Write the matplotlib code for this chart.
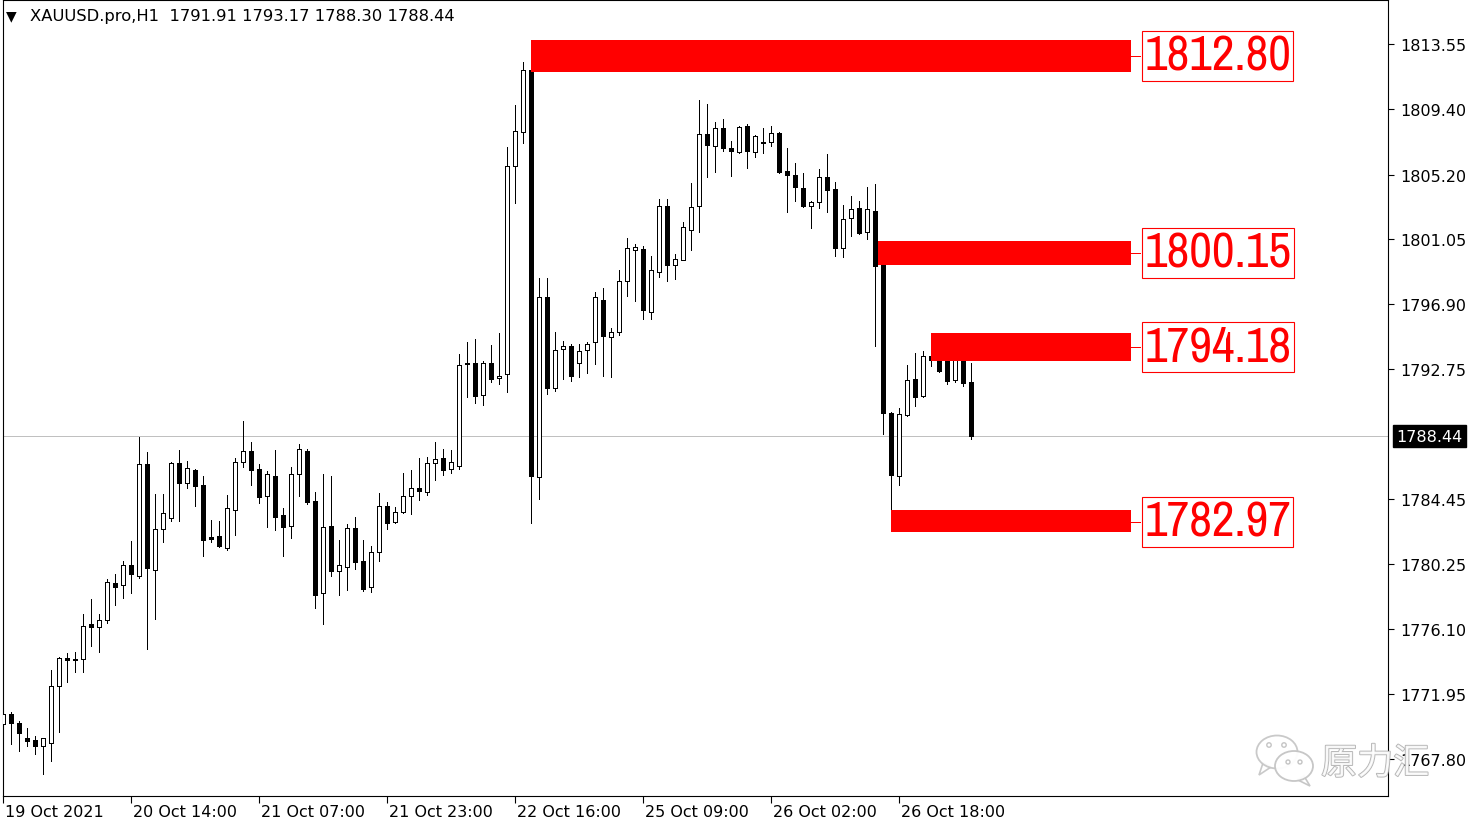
import matplotlib
matplotlib.use("Agg")
import matplotlib.pyplot as plt
from matplotlib.patches import Rectangle, Ellipse, Circle, Polygon
import matplotlib.patheffects as pe
import matplotlib.transforms as mtransforms
from matplotlib import font_manager
from matplotlib.font_manager import FontProperties

# ---------------- data (XAUUSD.pro, H1) ----------------
opens = [1770.03, 1770.67, 1770.09, 1769.13, 1769.01, 1768.62, 1768.81, 1772.46, 1774.25, 1774.19,
         1774.19, 1776.43, 1776.24, 1776.69, 1779.05, 1778.93, 1780.21, 1779.50, 1786.67, 1779.89,
         1782.51, 1783.21, 1786.73, 1785.45, 1786.29, 1785.33, 1782.00, 1782.06, 1781.29, 1783.73,
         1786.80, 1787.50, 1786.35, 1784.62, 1785.90, 1783.41, 1782.70, 1786.03, 1787.50, 1784.30,
         1778.41, 1782.70, 1779.82, 1780.08, 1782.57, 1780.46, 1778.80, 1781.04, 1783.98, 1782.96,
         1783.60, 1784.62, 1785.13, 1784.88, 1786.73, 1787.05, 1786.35, 1786.54, 1793.07, 1793.13,
         1791.09, 1793.13, 1792.17, 1792.43, 1805.74, 1807.92, 1811.89, 1785.84, 1797.36, 1791.53,
         1794.03, 1794.22, 1793.13, 1793.97, 1794.48, 1797.17, 1794.80, 1795.12, 1798.38, 1800.37,
         1800.43, 1796.40, 1798.96, 1803.18, 1799.41, 1799.73, 1801.65, 1803.18, 1807.79, 1807.02,
         1808.17, 1806.89, 1806.64, 1808.30, 1806.64, 1807.28, 1807.28, 1807.85, 1805.42, 1805.17,
         1804.33, 1803.18, 1803.44, 1805.04, 1804.27, 1800.49, 1802.41, 1803.05, 1801.52, 1802.86,
         1799.47, 1789.93, 1785.90, 1789.81, 1792.11, 1791.02, 1793.58, 1793.39, 1793.33, 1792.05,
         1793.58, 1791.91]
highs = [1770.86, 1770.80, 1770.22, 1769.77, 1769.26, 1769.13, 1773.49, 1774.30, 1774.57, 1774.64,
         1777.07, 1778.03, 1777.07, 1779.31, 1779.63, 1780.46, 1781.74, 1788.40, 1787.44, 1784.75,
         1784.75, 1786.80, 1787.57, 1786.86, 1786.35, 1785.90, 1783.09, 1783.02, 1784.69, 1787.05,
         1789.42, 1788.08, 1786.67, 1786.22, 1787.57, 1783.85, 1786.48, 1787.95, 1787.63, 1784.88,
         1786.03, 1785.90, 1781.81, 1782.83, 1783.28, 1781.81, 1781.42, 1784.81, 1784.24, 1783.92,
         1786.09, 1786.29, 1787.05, 1787.12, 1788.08, 1787.63, 1787.57, 1793.71, 1794.48, 1794.67,
         1793.26, 1794.29, 1795.05, 1806.96, 1809.65, 1812.40, 1812.80, 1798.57, 1798.57, 1795.12,
         1794.54, 1794.35, 1794.35, 1794.48, 1797.68, 1797.93, 1795.37, 1799.09, 1801.13, 1800.75,
         1800.60, 1799.98, 1803.63, 1803.63, 1800.11, 1802.16, 1804.65, 1809.97, 1809.71, 1808.56,
         1808.75, 1807.34, 1808.30, 1808.43, 1807.73, 1808.17, 1808.30, 1807.92, 1806.89, 1805.93,
         1805.29, 1803.50, 1805.55, 1806.51, 1804.72, 1803.25, 1803.82, 1803.50, 1804.40, 1804.59,
         1800.15, 1789.98, 1790.25, 1793.01, 1793.77, 1793.90, 1794.18, 1794.35, 1793.42, 1793.62,
         1794.35, 1793.17]
lows = [1769.07, 1768.75, 1768.30, 1768.62, 1768.11, 1766.83, 1767.66, 1769.52, 1772.72, 1773.36,
        1773.36, 1775.02, 1774.64, 1776.49, 1777.65, 1778.09, 1778.41, 1779.37, 1774.83, 1776.75,
        1781.68, 1783.02, 1783.02, 1785.13, 1783.98, 1780.78, 1781.68, 1781.38, 1781.17, 1782.13,
        1786.48, 1785.33, 1784.17, 1782.64, 1782.45, 1780.78, 1781.93, 1784.62, 1784.11, 1777.45,
        1776.43, 1779.50, 1778.29, 1778.61, 1779.95, 1778.54, 1778.48, 1780.46, 1782.51, 1782.89,
        1783.53, 1783.47, 1784.37, 1784.69, 1785.65, 1785.97, 1786.09, 1786.35, 1790.96, 1790.57,
        1790.45, 1791.92, 1791.79, 1791.28, 1803.37, 1807.21, 1782.89, 1784.43, 1791.15, 1791.34,
        1792.11, 1791.98, 1792.24, 1792.49, 1793.07, 1792.30, 1792.24, 1794.93, 1797.42, 1797.10,
        1795.95, 1795.95, 1798.64, 1798.38, 1798.51, 1799.70, 1800.37, 1801.52, 1805.04, 1805.36,
        1806.70, 1805.10, 1806.60, 1805.61, 1806.32, 1806.57, 1807.02, 1805.30, 1802.80, 1803.50,
        1803.15, 1801.77, 1803.05, 1802.80, 1799.98, 1799.92, 1801.26, 1801.40, 1801.07, 1794.22,
        1788.59, 1782.97, 1785.33, 1789.75, 1790.38, 1790.98, 1792.94, 1792.58, 1791.79, 1791.95,
        1791.66, 1788.30]
closes = [1770.67, 1770.09, 1769.45, 1768.94, 1768.62, 1769.13, 1772.46, 1774.25, 1774.13, 1774.13,
          1776.30, 1776.24, 1776.69, 1779.12, 1778.80, 1780.21, 1779.63, 1786.67, 1780.01, 1782.51,
          1783.53, 1786.73, 1785.45, 1786.41, 1785.26, 1781.81, 1781.87, 1781.42, 1783.85, 1786.80,
          1787.50, 1786.29, 1784.56, 1786.03, 1783.28, 1782.64, 1786.03, 1787.63, 1784.24, 1778.29,
          1782.64, 1779.82, 1780.21, 1782.57, 1780.40, 1778.67, 1781.04, 1783.98, 1782.89, 1783.60,
          1784.62, 1785.13, 1784.94, 1786.73, 1786.99, 1786.29, 1786.80, 1793.01, 1793.13, 1791.02,
          1793.13, 1792.11, 1792.30, 1805.74, 1807.98, 1811.89, 1785.90, 1797.36, 1791.53, 1793.97,
          1794.22, 1792.30, 1793.90, 1794.35, 1797.36, 1794.86, 1795.12, 1798.38, 1800.49, 1800.56,
          1796.53, 1799.09, 1803.18, 1799.41, 1799.79, 1801.84, 1803.12, 1807.79, 1807.09, 1808.17,
          1806.89, 1806.70, 1808.24, 1806.70, 1807.66, 1807.21, 1807.85, 1805.36, 1805.17, 1804.40,
          1803.20, 1803.44, 1805.04, 1804.21, 1800.49, 1802.35, 1802.99, 1801.45, 1802.99, 1799.34,
          1789.93, 1785.97, 1789.87, 1792.05, 1790.96, 1793.58, 1793.33, 1792.62, 1791.98, 1793.58,
          1791.85, 1788.44]

current_price = 1788.44
title_text = "XAUUSD.pro,H1  1791.91 1793.17 1788.30 1788.44"

xtick_bars = [0, 16, 32, 48, 64, 80, 96, 112]
xtick_labels = ["19 Oct 2021", "20 Oct 14:00", "21 Oct 07:00", "21 Oct 23:00",
                "22 Oct 16:00", "25 Oct 09:00", "26 Oct 02:00", "26 Oct 18:00"]
ytick_vals = [1813.55, 1809.40, 1805.20, 1801.05, 1796.90, 1792.75,
              1784.45, 1780.25, 1776.10, 1771.95, 1767.80]

zone_levels = [1812.80, 1800.15, 1794.18, 1782.97]
zone_start = [66, 109.3, 116, 111]
zone_top = [1813.81, 1800.96, 1795.06, 1783.74]
zone_bottom = [1811.76, 1799.43, 1793.29, 1782.33]
zone_end = 141.0


# ---------------- pick a narrow sans face for the big labels ----------------
def pick_label_font():
    cands = []
    for f in font_manager.fontManager.ttflist:
        name = f.name
        fn = f.fname.lower()
        if f.style != "normal" or f.weight not in (400, "normal", "regular"):
            continue
        if any(k in name for k in ("Mono", "Serif", "CJK", "DejaVu")):
            continue
        narrow = ("Narrow" in name) or ("narrow" in fn)
        cond = ("condensed" in fn) or ("Condensed" in name) or (str(f.stretch) in ("condensed", "semi-condensed"))
        if "extra" in fn or "ultra" in fn:
            continue
        if narrow:
            cands.append((0, f.fname))
        elif cond:
            cands.append((1 if "semi" not in fn else 2, f.fname))
    if cands:
        cands.sort()
        return FontProperties(fname=cands[0][1])
    return FontProperties(family="Liberation Sans")


label_fp = pick_label_font()

# ---------------- figure ----------------
W, H = 1480, 828
fig = plt.figure(figsize=(W / 100, H / 100), dpi=100)
fig.patch.set_facecolor("white")

ax_left, ax_right, ax_top, ax_bottom = 2.7, 1388, 1, 797
ax = fig.add_axes([ax_left / W, 1 - ax_bottom / H, (ax_right - ax_left) / W, (ax_bottom - ax_top) / H])
ax.set_facecolor("white")
ax.set_xlim(-0.075, 173.09)
ax.set_ylim(1765.43, 1816.37)

# current price line
ax.axhline(current_price, color="#c0c0c0", lw=0.72, zorder=1)

# candles
for i, (o, h, l, c) in enumerate(zip(opens, highs, lows, closes)):
    ax.vlines(i, l, h, color="black", lw=0.72, zorder=2, antialiased=False)
    bull = c >= o
    bottom = min(o, c)
    height = max(abs(c - o), 0.005)
    ax.bar(i, height, bottom=bottom, width=0.5, facecolor="white" if bull else "black",
           edgecolor="black", linewidth=0.72, zorder=3, antialiased=False)

# red zones with labels
renderer = fig.canvas.get_renderer()
label_texts = []
for lvl, xs, top, bot in zip(zone_levels, zone_start, zone_top, zone_bottom):
    ax.add_patch(Rectangle((xs, bot), zone_end - xs, top - bot, facecolor="#ff0000",
                           edgecolor="none", zorder=4))
    ax.plot([zone_end, 142.1], [lvl, lvl], color="#ff0000", lw=0.72, zorder=4)
    fp = label_fp.copy()
    fp.set_size(30)
    t = ax.text(142.6, lvl, f"{lvl:.2f}", fontproperties=fp, color="#ff0000",
                ha="left", va="center", zorder=5)
    label_texts.append(t)

# fit label size: text width ~147 px, box height ~50 px
for t in label_texts:
    ext = t.get_window_extent(renderer)
    size = 30 * 147.0 / ext.width
    t.set_fontsize(size)
    ext = t.get_window_extent(renderer)
    fs_px = size * 100 / 72.0
    pad = max((50 - ext.height) / 2.0, 1.5) / fs_px
    t.set_bbox(dict(boxstyle=f"square,pad={pad:.3f}", facecolor="white", edgecolor="#ff0000", lw=0.8))

# axes styling
for s in ax.spines.values():
    s.set_color("black")
    s.set_linewidth(0.8)
ax.yaxis.tick_right()
ax.set_yticks(ytick_vals)
ax.set_yticklabels([f"{v:.2f}" for v in ytick_vals])
ax.tick_params(axis="y", direction="out", length=4, width=0.8, pad=5, labelsize=11.5, colors="black")
ax.set_xticks(xtick_bars)
ax.set_xticklabels(xtick_labels)
ax.tick_params(axis="x", direction="out", length=5, width=0.8, pad=1, labelsize=11.5, colors="black")
offset = mtransforms.ScaledTranslation(1.5 / 100, 0, fig.dpi_scale_trans)
for lab in ax.get_xticklabels():
    lab.set_horizontalalignment("left")
    lab.set_transform(lab.get_transform() + offset)

# current price tag on the price scale
ax.text(1.0063, current_price, f"{current_price:.2f}", transform=ax.get_yaxis_transform(),
        fontsize=11.5, color="white", ha="left", va="center", zorder=6, clip_on=False,
        bbox=dict(boxstyle="square,pad=0.22", facecolor="black", edgecolor="black"))

# ---------------- overlay (title, watermark) ----------------
ov = fig.add_axes([0, 0, 1, 1], zorder=10)
ov.set_xlim(0, W)
ov.set_ylim(H, 0)
ov.axis("off")
ov.patch.set_alpha(0)

ov.text(6, 16, "▼", fontsize=10, ha="left", va="center", color="black")
ov.text(30, 17, title_text, fontsize=11.8, ha="left", va="center", color="black")

gray = "#c4c4c4"
ov.add_patch(Polygon([[1263, 764], [1259, 776], [1271, 768]], closed=True, fc="white", ec=gray, lw=1.2, alpha=0.9))
ov.add_patch(Ellipse((1277, 753), 41, 33, fc="white", ec=gray, lw=1.3, alpha=0.9))
for ex in (1269, 1284):
    ov.add_patch(Circle((ex, 746), 2.2, fc="white", ec=gray, lw=1.0))
ov.add_patch(Polygon([[1304, 777], [1310, 787], [1298, 781]], closed=True, fc="white", ec=gray, lw=1.2, alpha=0.95))
ov.add_patch(Ellipse((1294, 767), 38, 30, fc="white", ec=gray, lw=1.3, alpha=0.95))
for ex in (1288, 1300):
    ov.add_patch(Circle((ex, 763), 2.0, fc="white", ec=gray, lw=1.0))
ov.text(1321, 765, "原力汇", fontsize=26, family=["Noto Sans CJK SC", "DejaVu Sans"],
        color="white", alpha=0.85, ha="left", va="center",
        path_effects=[pe.withStroke(linewidth=1.3, foreground="#a8a8a8")])

fig.savefig("out.png", dpi=100, facecolor="white")
